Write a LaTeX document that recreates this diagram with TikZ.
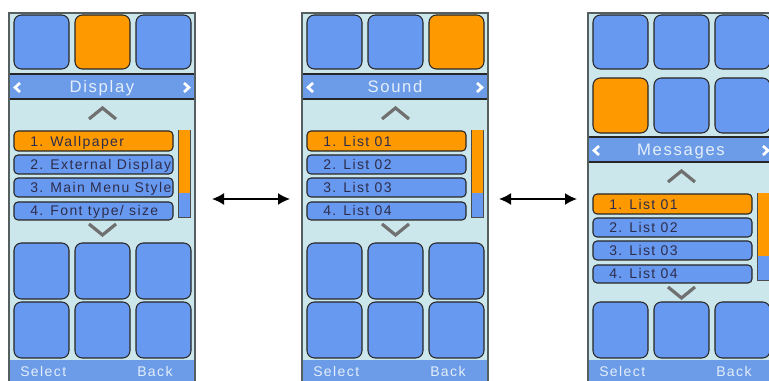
\documentclass[tikz,border=0pt]{standalone}
\usepackage{fontspec}
\setmainfont{Liberation Sans}
\newfontfamily\scrfont[LetterSpace=10]{Liberation Sans}
\usetikzlibrary{arrows.meta}
\definecolor{scrbg}{RGB}{204,231,235}
\definecolor{tileblue}{RGB}{104,153,240}
\definecolor{selorange}{RGB}{255,153,0}
\definecolor{barblue}{RGB}{108,156,232}
\definecolor{frameline}{RGB}{85,95,95}
\definecolor{chevgray}{RGB}{112,112,112}
\definecolor{itemink}{RGB}{45,45,75}
\definecolor{softink}{RGB}{228,238,250}
\tikzset{
  screen/.style={fill=scrbg},
  rim/.style={draw=frameline, line width=0.9pt},
  tile/.style={draw=black!85, line width=0.8pt, fill=tileblue, rounded corners=5.5},
  seltile/.style={tile, fill=selorange},
  titlebar/.style={draw=black!85, line width=0.9pt, fill=barblue},
  tarrow/.style={draw=white, line width=2pt},
  chev/.style={draw=chevgray, line width=2.4pt},
  item/.style={draw=black!85, line width=0.8pt, fill=tileblue, rounded corners=3},
  selitem/.style={item, fill=selorange},
  scroll/.style={draw=black!70, line width=0.6pt, fill=tileblue},
  titletext/.style={anchor=base, inner sep=0pt, text=softink, font=\scrfont\fontsize{12.5}{14}\selectfont},
  itemtext/.style={anchor=base west, inner sep=0pt, text=itemink, font=\scrfont\fontsize{10.5}{12}\selectfont},
  softtext/.style={anchor=base west, inner sep=0pt, text=softink, font=\scrfont\fontsize{10.5}{12}\selectfont},
  link/.style={{Latex[length=9pt,width=9pt]}-{Latex[length=9pt,width=9pt]}, line width=1.3pt}
}
\begin{document}
\begin{tikzpicture}[x=0.75pt,y=0.75pt,yscale=-1,xscale=1]
\clip (0,0) rectangle (769,381);

%%% Screen: Display
\fill[screen] (9,13) rectangle (195,392);
%Shape: top row
\draw[tile] (14,15) rectangle (69,69);
\draw[seltile] (75,15) rectangle (130,69);
\draw[tile] (136,15) rectangle (191,69);
%Shape: title bar
\draw[titlebar] (9,74) rectangle (195,99);
\draw[tarrow] (20,83) -- (15,87.5) -- (20,92);
\draw[tarrow] (184,83) -- (189,87.5) -- (184,92);
\node[titletext] (hd1) at (102,93) {Display};
%Shape: list
\draw[chev] (89,119) -- (102.5,108) -- (116,119);
\draw[selitem] (14,131) rectangle (173,151);
\draw[item] (14,155) rectangle (173,174);
\draw[item] (14,178) rectangle (173,197);
\draw[item] (14,202) rectangle (173,220);
\begin{scope}
\clip (14,131) rectangle (172,221);
\node[itemtext] (it11) at (30,147) {1. Wallpaper};
\node[itemtext] (it12) at (30,170) {2. External Display};
\node[itemtext] (it13) at (30,193) {3. Main Menu Style};
\node[itemtext] (it14) at (30,216) {4. Font type/ size};
\end{scope}
\draw[scroll] (178,130) rectangle (190,217);
\fill[selorange] (178.5,130.5) rectangle (189.5,193);
\draw[chev] (89,224) -- (102.5,235) -- (116,224);
%Shape: grid
\foreach \x in {14,75,136}{
  \draw[tile] (\x,243) rectangle ++(55,56);
  \draw[tile] (\x,302) rectangle ++(55,56);
}
%Shape: soft keys
\fill[barblue] (9,360) rectangle (195,392);
\node[softtext] (sel1) at (20,377) {Select};
\node[softtext] (bck1) at (137,377) {Back};
\draw[rim] (9,13) rectangle (195,392);

%%% Screen: Sound
\begin{scope}[shift={(293,0)}]
\fill[screen] (9,13) rectangle (195,392);
\draw[tile] (14,15) rectangle (69,69);
\draw[tile] (75,15) rectangle (130,69);
\draw[seltile] (136,15) rectangle (191,69);
\draw[titlebar] (9,74) rectangle (195,99);
\draw[tarrow] (20,83) -- (15,87.5) -- (20,92);
\draw[tarrow] (184,83) -- (189,87.5) -- (184,92);
\node[titletext] (hd2) at (102,93) {Sound};
\draw[chev] (89,119) -- (102.5,108) -- (116,119);
\draw[selitem] (14,131) rectangle (173,151);
\draw[item] (14,155) rectangle (173,174);
\draw[item] (14,178) rectangle (173,197);
\draw[item] (14,202) rectangle (173,220);
\node[itemtext] (it21) at (30,147) {1. List 01};
\node[itemtext] (it22) at (30,170) {2. List 02};
\node[itemtext] (it23) at (30,193) {3. List 03};
\node[itemtext] (it24) at (30,216) {4. List 04};
\draw[scroll] (178,130) rectangle (190,217);
\fill[selorange] (178.5,130.5) rectangle (189.5,193);
\draw[chev] (89,224) -- (102.5,235) -- (116,224);
\foreach \x in {14,75,136}{
  \draw[tile] (\x,243) rectangle ++(55,56);
  \draw[tile] (\x,302) rectangle ++(55,56);
}
\fill[barblue] (9,360) rectangle (195,392);
\node[softtext] (sel2) at (20,377) {Select};
\node[softtext] (bck2) at (137,377) {Back};
\draw[rim] (9,13) rectangle (195,392);
\end{scope}

%%% Screen: Messages
\begin{scope}[shift={(579,0)}]
\fill[screen] (9,13) rectangle (195,392);
\foreach \x in {14,75,136}
  \draw[tile] (\x,15) rectangle ++(55,54);
\draw[seltile] (14,78) rectangle (69,133);
\draw[tile] (75,78) rectangle (130,133);
\draw[tile] (136,78) rectangle (191,133);
\draw[titlebar] (9,137) rectangle (195,162);
\draw[tarrow] (20,146) -- (15,150.5) -- (20,155);
\draw[tarrow] (184,146) -- (189,150.5) -- (184,155);
\node[titletext] (hd3) at (102,156) {Messages};
\draw[chev] (89,182) -- (102.5,171) -- (116,182);
\draw[selitem] (14,194) rectangle (173,214);
\draw[item] (14,218) rectangle (173,237);
\draw[item] (14,241) rectangle (173,260);
\draw[item] (14,265) rectangle (173,283);
\node[itemtext] (it31) at (30,210) {1. List 01};
\node[itemtext] (it32) at (30,233) {2. List 02};
\node[itemtext] (it33) at (30,256) {3. List 03};
\node[itemtext] (it34) at (30,279) {4. List 04};
\draw[scroll] (178,193) rectangle (190,280);
\fill[selorange] (178.5,193.5) rectangle (189.5,256);
\foreach \x in {14,75,136}
  \draw[tile] (\x,302) rectangle ++(55,56);
\draw[chev] (89,287) -- (102.5,298) -- (116,287);
\fill[barblue] (9,360) rectangle (195,392);
\node[softtext] (sel3) at (20,377) {Select};
\node[softtext] (bck3) at (137,377) {Back};
\draw[rim] (9,13) rectangle (195,392);
\end{scope}

%Arrows between screens
\coordinate (a1) at (212,199);
\coordinate (b1) at (290,199);
\coordinate (a2) at (499,199);
\coordinate (b2) at (577,199);
\draw[link] (a1) -- (b1);
\draw[link] (a2) -- (b2);

\end{tikzpicture}
\end{document}
